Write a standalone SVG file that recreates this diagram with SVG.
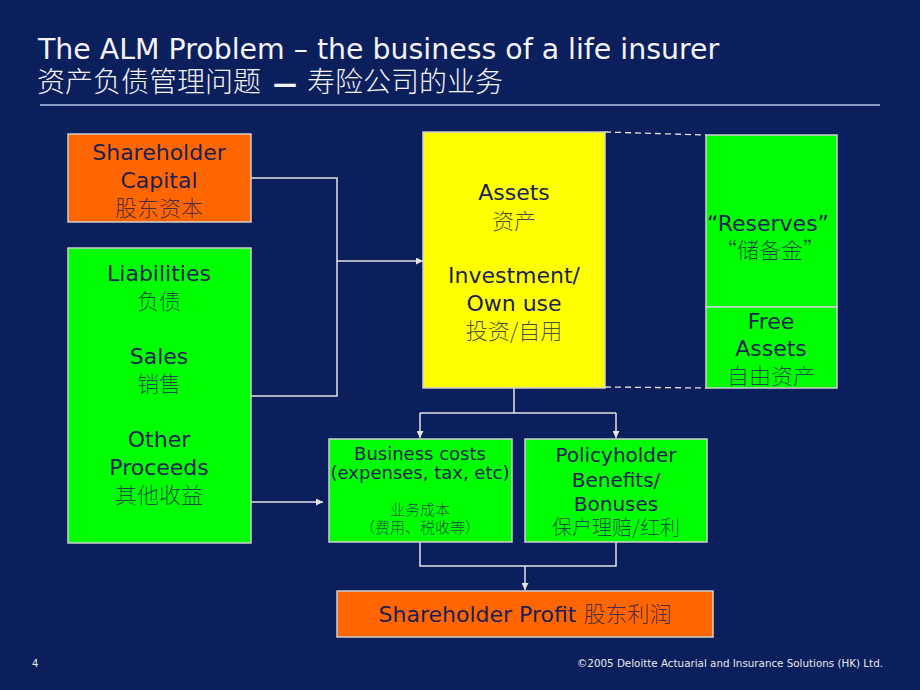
<svg xmlns="http://www.w3.org/2000/svg" width="920" height="690" viewBox="0 0 920 690">
<defs>
<style>
text{font-family:"DejaVu Sans","Noto Sans CJK SC",sans-serif;}
.title{fill:#F4F4F8;font-size:28.4px;}
.sub{fill:#F4F4F8;font-size:28px;font-family:"Noto Sans CJK SC",sans-serif;font-weight:300;}
.dsh{font-family:"DejaVu Sans",sans-serif;font-weight:bold;font-size:24px;}
.foot{fill:#E8E8F0;font-size:10px;}
.box{stroke:#D0D0D0;stroke-width:1.5;}
.or{fill:#FF6600;}
.gr{fill:#00FF00;}
.ye{fill:#FFFF00;}
.t{fill:#1B1F55;font-size:22px;text-anchor:middle;}
.s{fill:#1B1F55;font-size:18px;text-anchor:middle;}
.p{fill:#1B1F55;font-size:20px;text-anchor:middle;}
.cn{fill-opacity:0.8;font-family:"Noto Sans CJK SC",sans-serif;font-weight:300;}
.ln{fill:none;stroke:#E4E4E4;stroke-width:1.5;}
.dash{fill:none;stroke:#E4E4E4;stroke-width:1.3;stroke-dasharray:6 4;}
</style>
<marker id="ah" viewBox="0 0 10 10" refX="10" refY="5" markerWidth="7" markerHeight="7" markerUnits="userSpaceOnUse" orient="auto">
<path d="M0,0 L10,5 L0,10 Z" fill="#E4E4E4"/>
</marker>
</defs>
<rect x="0" y="0" width="920" height="690" fill="#0B1F5C"/>
<g id="header">
<text class="title" x="38" y="59">The ALM Problem – the business of a life insurer</text>
<text class="sub" x="37" y="92">资产负债管理问题<tspan class="dsh" dx="12">—</tspan><tspan dx="10">寿险公司的业务</tspan></text>
<line x1="40" y1="105" x2="880" y2="105" stroke="#8C9CC8" stroke-width="2"/>
</g>
<g id="connectors">
<polyline class="ln" points="251,178 337,178 337,396 251,396"/>
<line class="ln" x1="337" y1="261" x2="423" y2="261" marker-end="url(#ah)"/>
<line class="ln" x1="251" y1="502" x2="323" y2="502" marker-end="url(#ah)"/>
<line class="ln" x1="514" y1="388" x2="514" y2="413"/>
<line class="ln" x1="420" y1="413" x2="616" y2="413"/>
<line class="ln" x1="420" y1="413" x2="420" y2="438" marker-end="url(#ah)"/>
<line class="ln" x1="616" y1="413" x2="616" y2="438" marker-end="url(#ah)"/>
<polyline class="ln" points="420,542 420,566 616,566 616,542"/>
<line class="ln" x1="525" y1="566" x2="525" y2="590" marker-end="url(#ah)"/>
<line class="dash" x1="605" y1="132" x2="706" y2="135"/>
<line class="dash" x1="605" y1="387" x2="706" y2="388"/>
</g>
<g id="shareholder-capital">
<rect class="box or" x="68" y="134" width="183" height="88"/>
<text class="t" x="159" y="160">Shareholder</text>
<text class="t" x="159" y="188">Capital</text>
<text class="t cn" x="159" y="216">股东资本</text>
</g>
<g id="liabilities">
<rect class="box gr" x="68" y="248" width="183" height="295"/>
<text class="t" x="159" y="281">Liabilities</text>
<text class="t cn" x="159" y="309">负债</text>
<text class="t" x="159" y="364">Sales</text>
<text class="t cn" x="159" y="392">销售</text>
<text class="t" x="159" y="447">Other</text>
<text class="t" x="159" y="475">Proceeds</text>
<text class="t cn" x="159" y="503">其他收益</text>
</g>
<g id="assets">
<rect class="box ye" x="423" y="132" width="182" height="256"/>
<text class="t" x="514" y="200">Assets</text>
<text class="t cn" x="514" y="229">资产</text>
<text class="t" x="514" y="283">Investment/</text>
<text class="t" x="514" y="311">Own use</text>
<text class="t cn" x="514" y="339">投资/自用</text>
</g>
<g id="reserves">
<rect class="box gr" x="706" y="135" width="131" height="172"/>
<text class="t" x="768" y="231">“Reserves”</text>
<text class="t cn" x="770" y="258">“储备金”</text>
</g>
<g id="free-assets">
<rect class="box gr" x="706" y="307" width="131" height="81"/>
<text class="t" x="771" y="329">Free</text>
<text class="t" x="771" y="356">Assets</text>
<text class="t cn" x="771" y="384">自由资产</text>
</g>
<g id="business-costs">
<rect class="box gr" x="329" y="439" width="183" height="103"/>
<text class="s" x="420" y="460">Business costs</text>
<text class="s" x="420" y="479">(expenses, tax, etc)</text>
<text class="s cn" x="420" y="515" style="font-size:15px">业务成本</text>
<text class="s cn" x="420" y="533" style="font-size:15px">（费用、税收等）</text>
</g>
<g id="policyholder">
<rect class="box gr" x="525" y="439" width="182" height="103"/>
<text class="p" x="616" y="462">Policyholder</text>
<text class="p" x="616" y="487">Benefits/</text>
<text class="p" x="616" y="511">Bonuses</text>
<text class="p cn" x="616" y="535">保户理赔/红利</text>
</g>
<g id="shareholder-profit">
<rect class="box or" x="337" y="591" width="376" height="46"/>
<text class="t" x="525" y="622">Shareholder Profit <tspan class="cn">股东利润</tspan></text>
</g>
<g id="footer">
<text class="foot" x="32" y="667">4</text>
<text class="foot" x="883" y="667" text-anchor="end" textLength="306" lengthAdjust="spacingAndGlyphs">©2005 Deloitte Actuarial and Insurance Solutions (HK) Ltd.</text>
</g>
</svg>
